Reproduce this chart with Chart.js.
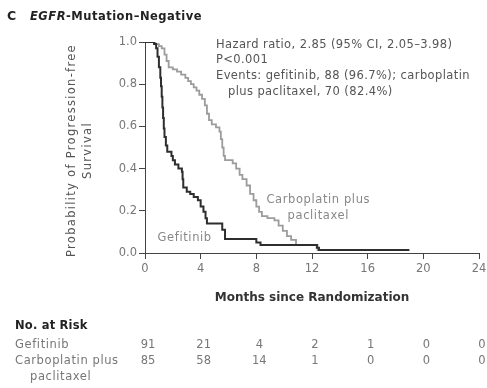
<!DOCTYPE html>
<html>
<head>
<meta charset="utf-8">
<script src="https://cdn.jsdelivr.net/npm/chart.js@4"></script>
<style>
  html, body { margin: 0; padding: 0; background: #fff; }
  #wrap { width: 487px; height: 388px; }
</style>
</head>
<body>
<div id="wrap"><canvas id="kmChart" width="487" height="388"></canvas></div>
<script>
// Kaplan-Meier steps (month, probability after the drop)
var gefitinibMonths = [0, 0.65, 0.8, 0.9, 1.0, 1.1, 1.15, 1.2, 1.25, 1.3, 1.35, 1.4, 1.5, 1.6, 1.9, 2.0, 2.15, 2.4, 2.65, 2.7, 2.75, 3.0, 3.25, 3.5, 3.8, 4.0, 4.2, 4.35, 4.45, 5.55, 5.75, 8.0, 8.3, 12.35, 12.5, 19.0];
var gefitinibSurv = [1.0, 0.99, 0.97, 0.93, 0.88, 0.83, 0.79, 0.74, 0.69, 0.64, 0.59, 0.55, 0.51, 0.48, 0.46, 0.44, 0.42, 0.40, 0.385, 0.35, 0.31, 0.29, 0.28, 0.265, 0.25, 0.22, 0.196, 0.165, 0.14, 0.11, 0.066, 0.05, 0.038, 0.025, 0.014, 0.014];

var carboMonths = [0, 0.75, 1.0, 1.2, 1.4, 1.55, 1.7, 2.0, 2.3, 2.6, 2.9, 3.1, 3.3, 3.5, 3.7, 3.9, 4.1, 4.3, 4.45, 4.6, 4.8, 5.1, 5.35, 5.45, 5.55, 5.65, 5.75, 6.3, 6.55, 6.8, 7.0, 7.3, 7.55, 7.8, 8.0, 8.2, 8.4, 8.8, 9.3, 9.6, 9.9, 10.2, 10.5, 10.85, 12.4, 14.0];
var carboSurv = [1.0, 0.99, 0.98, 0.97, 0.94, 0.91, 0.88, 0.87, 0.86, 0.845, 0.83, 0.815, 0.80, 0.785, 0.77, 0.75, 0.73, 0.70, 0.66, 0.63, 0.61, 0.595, 0.575, 0.54, 0.50, 0.46, 0.44, 0.425, 0.40, 0.37, 0.35, 0.32, 0.28, 0.25, 0.22, 0.195, 0.175, 0.165, 0.155, 0.13, 0.105, 0.08, 0.062, 0.038, 0.014, 0.014];

// number at risk table
var riskMonths = [0, 4, 8, 12, 16, 20, 24];
var riskGefitinib = [91, 21, 4, 2, 1, 0, 0];
var riskCarbo = [85, 58, 14, 1, 0, 0, 0];

var yTicks = [0, 0.2, 0.4, 0.6, 0.8, 1.0];

var FONT = "'DejaVu Sans', sans-serif";

function toPoints(xs, ys) {
    var pts = [];
    for (var i = 0; i < xs.length; ++i) {
        pts.push({ x: xs[i], y: ys[i] });
    }
    return pts;
}

var textPlugin = {
    id: 'kmText',
    afterDraw: function (chart) {
        var ctx = chart.ctx;
        var x = chart.scales.x, y = chart.scales.y;
        ctx.save();
        ctx.textBaseline = 'middle';

        // panel title
        ctx.fillStyle = '#222';
        ctx.font = 'bold 12.5px ' + FONT;
        ctx.fillText('C', 7, 17);
        ctx.letterSpacing = '0.5px';
        ctx.font = 'italic bold 11.5px ' + FONT;
        ctx.fillText('EGFR', 30, 17);
        var w = ctx.measureText('EGFR').width;
        ctx.font = 'bold 11.5px ' + FONT;
        ctx.fillText('-Mutation\u2013Negative', 30 + w, 17);

        // y axis title, two lines, rotated
        ctx.save();
        ctx.fillStyle = '#555';
        ctx.font = '11.5px ' + FONT;
        ctx.letterSpacing = '1.3px';
        ctx.textAlign = 'center';
        var midY = (y.top + y.bottom) / 2 + 3;
        ctx.translate(72, midY);
        ctx.rotate(-Math.PI / 2);
        ctx.fillText('Probability of Progression-free', 0, 0);
        ctx.fillText('Survival', 0, 16);
        ctx.restore();

        // hazard ratio block
        ctx.fillStyle = '#555';
        ctx.font = '11.5px ' + FONT;
        ctx.letterSpacing = '0.4px';
        var hx = x.getPixelForValue(5.1);
        ctx.fillText('Hazard ratio, 2.85 (95% CI, 2.05\u20133.98)', hx, 45);
        ctx.fillText('P<0.001', hx, 60);
        ctx.fillText('Events: gefitinib, 88 (96.7%); carboplatin', hx, 76);
        ctx.fillText('plus paclitaxel, 70 (82.4%)', hx + 12, 92);

        // curve labels
        ctx.fillStyle = '#888';
        ctx.letterSpacing = '0.6px';
        ctx.textAlign = 'center';
        ctx.fillText('Gefitinib', x.getPixelForValue(2.85), y.getPixelForValue(0.071));
        ctx.fillText('Carboplatin plus', x.getPixelForValue(12.45), y.getPixelForValue(0.25));
        ctx.fillText('paclitaxel', x.getPixelForValue(12.45), y.getPixelForValue(0.175));

        // number at risk
        ctx.textAlign = 'left';
        ctx.fillStyle = '#222';
        ctx.letterSpacing = '0.2px';
        ctx.font = 'bold 11.5px ' + FONT;
        ctx.fillText('No. at Risk', 15, 326);
        ctx.fillStyle = '#777';
        ctx.letterSpacing = '0.6px';
        ctx.font = '11.5px ' + FONT;
        ctx.fillText('Gefitinib', 15, 345);
        ctx.fillText('Carboplatin plus', 15, 361);
        ctx.fillText('paclitaxel', 30, 377);
        ctx.letterSpacing = '0px';
        ctx.textAlign = 'center';
        for (var i = 0; i < riskMonths.length; ++i) {
            var px = x.getPixelForValue(riskMonths[i]) + 3;
            ctx.fillText(String(riskGefitinib[i]), px, 345);
            ctx.fillText(String(riskCarbo[i]), px, 361);
        }
        ctx.restore();
    }
};

var ctx = document.getElementById('kmChart');
var kmChart = new Chart(ctx, {
    type: 'scatter',
    data: {
        datasets: [{
            label: 'Gefitinib',
            data: toPoints(gefitinibMonths, gefitinibSurv),
            showLine: true,
            stepped: true,
            borderColor: '#2e2e2e',
            borderWidth: 2,
            pointRadius: 0,
            fill: false
        }, {
            label: 'Carboplatin plus paclitaxel',
            data: toPoints(carboMonths, carboSurv),
            showLine: true,
            stepped: true,
            borderColor: '#9c9c9c',
            borderWidth: 1.8,
            pointRadius: 0,
            fill: false
        }]
    },
    options: {
        responsive: false,
        animation: false,
        layout: { padding: { left: 0, top: 42, right: 8, bottom: 0 } },
        plugins: {
            legend: { display: false },
            tooltip: { enabled: false }
        },
        scales: {
            x: {
                type: 'linear',
                min: 0,
                max: 24,
                afterFit: function (s) {
                    s.height = 135;
                    s.paddingLeft = 0;
                    s.paddingRight = 0;
                },
                afterBuildTicks: function (s) {
                    s.ticks = riskMonths.map(function (v) { return { value: v }; });
                },
                ticks: {
                    color: '#777',
                    font: { family: FONT, size: 11.5 },
                    padding: 3,
                    maxRotation: 0
                },
                grid: {
                    drawOnChartArea: false,
                    drawTicks: true,
                    tickLength: 6,
                    color: '#444'
                },
                border: { color: '#444', width: 1 },
                title: {
                    display: true,
                    text: 'Months since Randomization',
                    color: '#333',
                    font: { family: FONT, size: 12, weight: 'bold' },
                    padding: { top: 0, bottom: 83 }
                }
            },
            y: {
                type: 'linear',
                min: 0,
                max: 1,
                afterFit: function (s) { s.width = 145; },
                afterBuildTicks: function (s) {
                    s.ticks = yTicks.map(function (v) { return { value: v }; });
                },
                ticks: {
                    color: '#777',
                    font: { family: FONT, size: 11.5 },
                    padding: 2,
                    callback: function (v) { return Number(v).toFixed(1); }
                },
                grid: {
                    drawOnChartArea: false,
                    drawTicks: true,
                    tickLength: 6,
                    color: '#444'
                },
                border: { color: '#444', width: 1 },
                title: { display: false }
            }
        }
    },
    plugins: [textPlugin]
});
</script>
</body>
</html>
